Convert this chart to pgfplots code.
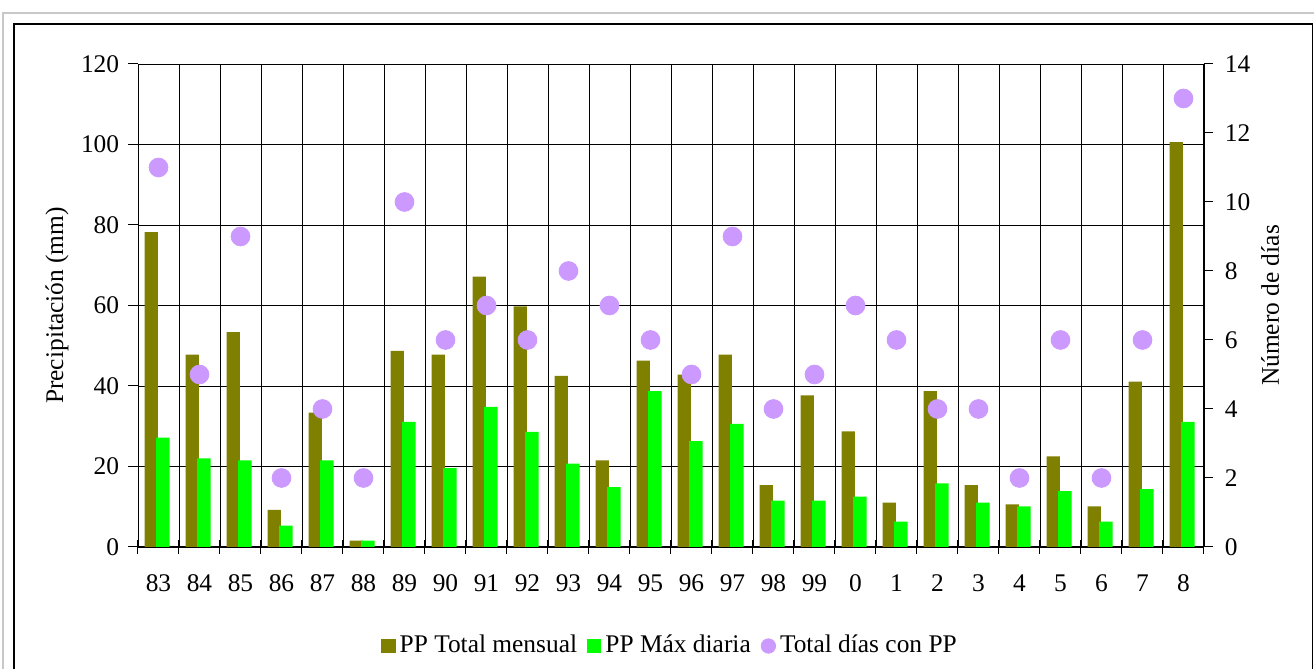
\documentclass[border=0pt]{standalone}
\usepackage{fontspec}
\setmainfont{Liberation Serif}
\usepackage{pgfplots}
\usepackage{pgfplotstable}
\pgfplotsset{compat=1.18}
\definecolor{ppolive}{HTML}{808000}
\definecolor{ppgreen}{HTML}{00FF00}
\definecolor{pppurple}{HTML}{CC99FF}
\definecolor{framegray}{HTML}{C8C8C8}
\newcommand{\chartfont}{\fontsize{12.7}{15}\selectfont}
\pgfplotstableread{
x tot max dias
0 78.2 27.2 11
1 47.8 22.0 5
2 53.4 21.5 9
3 9.2 5.3 2
4 33.4 21.5 4
5 1.6 1.6 2
6 48.7 31.1 10
7 47.8 19.6 6
8 67.2 34.8 7
9 59.8 28.6 6
10 42.5 20.7 8
11 21.5 14.9 7
12 46.3 38.7 6
13 42.8 26.3 5
14 47.8 30.6 9
15 15.4 11.5 4
16 37.7 11.5 5
17 28.7 12.5 7
18 11.0 6.3 6
19 38.7 15.8 4
20 15.4 11.0 4
21 10.6 10.1 2
22 22.5 13.9 6
23 10.1 6.3 2
24 41.1 14.4 6
25 100.6 31.1 13
}\datatable
\begin{document}
\chartfont
\begin{tikzpicture}
\path[use as bounding box] (0,0) rectangle (657pt,334.5pt);
\fill[white] (0,0) rectangle (657pt,334.5pt);
\draw[framegray, line width=1pt] (1.5pt,0) -- (1.5pt,328pt) -- (657pt,328pt);
\draw[black, line width=0.75pt] (7pt,-1pt) -- (7pt,322.5pt) -- (656.3pt,322.5pt) -- (656.3pt,-1pt);
\begin{axis}[
  at={(69pt,61pt)}, anchor=south west, scale only axis,
  width=533pt, height=241.5pt,
  xmin=-0.5, xmax=25.5, ymin=0, ymax=120,
  axis x line*=bottom, axis y line*=left,
  x axis line style={line width=1pt},
  xtick={0,...,25},
  xticklabels={83,84,85,86,87,88,89,90,91,92,93,94,95,96,97,98,99,0,1,2,3,4,5,6,7,8},
  major x tick style={draw=none},
  minor xtick={-0.5,0.5,...,25.5},
  xminorgrids=true,
  minor tick length=7pt,
  xtick align=center,
  ytick={0,20,...,120},
  ytick align=outside,
  major tick length=5pt,
  ymajorgrids=true,
  major grid style={black, line width=0.45pt},
  minor grid style={black, line width=0.45pt},
  tick style={black, line width=0.5pt},
  /pgf/number format/assume math mode=true,
  every tick label/.append style={font=\chartfont},
  xticklabel style={yshift=-7pt},
  ylabel={Precipitación (mm)},
  ylabel style={font=\chartfont, at={(axis description cs:-0.076,0.5)}, anchor=center},
  legend columns=3,
  legend style={draw=none, fill=none, font=\chartfont, at={(0.5,-0.205)}, anchor=center,
    /tikz/every even column/.append style={column sep=3pt}, inner sep=0pt},
  legend cell align=left,
]
\addplot[ybar, bar width=6.7pt, bar shift=-3.6pt, fill=ppolive, draw=none,
  legend image code/.code={\fill[ppolive] (0pt,-3.6pt) rectangle (7.2pt,3.6pt);}]
  table[x=x, y=tot]{\datatable};
\addlegendentry{PP Total mensual}
\addplot[ybar, bar width=6.8pt, bar shift=2.2pt, fill=ppgreen, draw=none,
  legend image code/.code={\fill[ppgreen] (0pt,-3.6pt) rectangle (7.2pt,3.6pt);}]
  table[x=x, y=max]{\datatable};
\addlegendentry{PP Máx diaria}
\addlegendimage{legend image code/.code={\fill[pppurple] (3.6pt,0pt) circle (3.6pt);}}
\addlegendentry{Total días con PP}
\end{axis}
\begin{axis}[
  at={(69pt,61pt)}, anchor=south west, scale only axis,
  width=533pt, height=241.5pt,
  xmin=-0.5, xmax=25.5, ymin=0, ymax=14,
  axis x line=none, axis y line*=right,
  y axis line style={line width=0.6pt},
  ytick={0,2,...,14},
  ytick align=outside,
  major tick length=4.5pt,
  tick style={black, line width=0.5pt},
  /pgf/number format/assume math mode=true,
  every tick label/.append style={font=\chartfont},
  yticklabel style={xshift=1.5pt},
  ylabel={Número de días},
  ylabel style={font=\chartfont, at={(axis description cs:1.062,0.5)}, anchor=center},
]
\addplot[only marks, draw=pppurple, fill=pppurple, mark=*, mark size=4.7pt]
  table[x=x, y=dias]{\datatable};
\end{axis}
\end{tikzpicture}
\end{document}
